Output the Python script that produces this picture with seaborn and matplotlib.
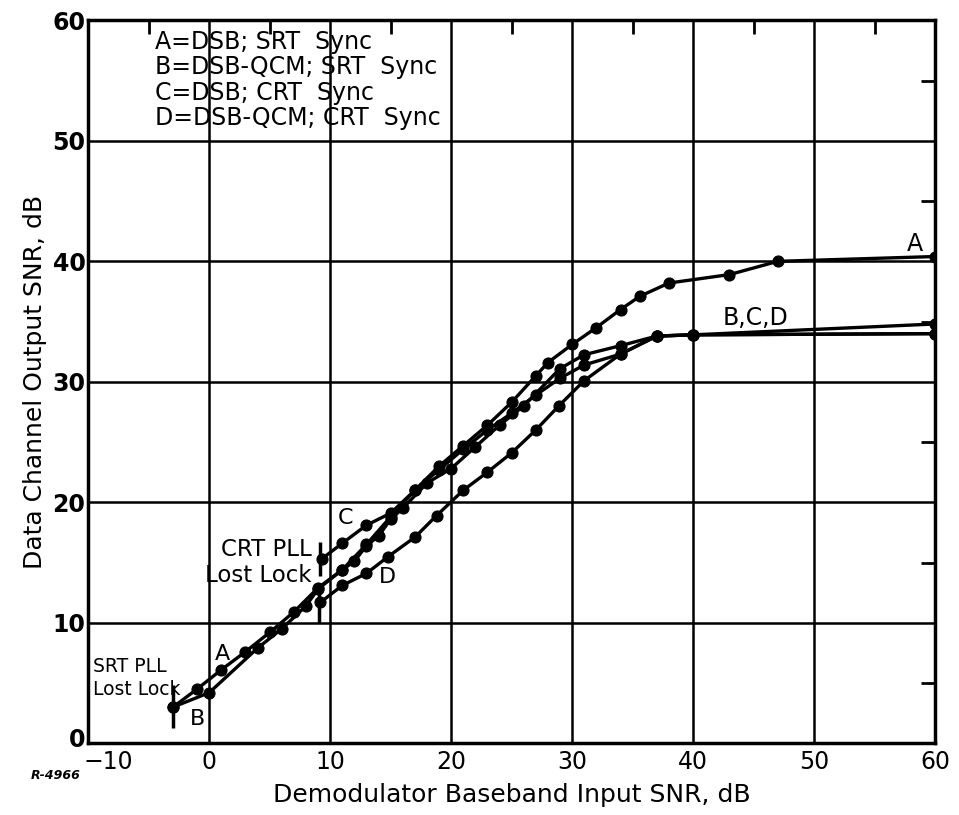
import matplotlib
matplotlib.use("Agg")
import matplotlib.pyplot as plt
import matplotlib.transforms as mtrans
import seaborn as sns
import pandas as pd
from matplotlib.ticker import MultipleLocator

# ---------------- data ----------------
A_x = [-3, -1, 1, 3, 5, 7, 9, 11, 13, 15, 17, 19, 21, 23, 25, 27, 28, 30, 32, 34, 35.6, 38, 43, 47, 60]
A_y = [3.0, 4.5, 6.1, 7.6, 9.2, 10.9, 12.9, 14.4, 16.5, 18.8, 21.0, 23.0, 24.7, 26.4, 28.3, 30.5, 31.6, 33.1, 34.5, 36.0, 37.1, 38.2, 38.9, 40.0, 40.4]

B_x = [-3, 0, 4, 6, 8, 9, 11, 12, 13, 14, 15, 16, 18, 20, 22, 24, 26, 29, 31, 34, 37, 40, 60]
B_y = [3.0, 4.2, 7.9, 9.5, 11.4, 12.8, 14.4, 15.1, 16.4, 17.2, 18.6, 19.5, 21.6, 22.8, 24.6, 26.4, 28.0, 31.1, 32.25, 33.0, 33.8, 33.9, 34.8]

C_x = [9.3, 11, 13, 15, 17, 19, 21, 23, 25, 27, 29, 31, 34, 37, 40, 60]
C_y = [15.3, 16.6, 18.1, 19.1, 21.0, 22.7, 24.4, 26.0, 27.4, 28.9, 30.3, 31.4, 32.3, 33.8, 33.9, 34.0]

D_x = [9.2, 11, 13, 14.8, 17, 18.8, 21, 23, 25, 27, 28.9, 31, 34, 37, 40, 60]
D_y = [11.7, 13.1, 14.1, 15.5, 17.1, 18.9, 21.0, 22.5, 24.1, 26.0, 28.0, 30.1, 32.3, 33.8, 33.9, 34.0]

legend_lines = ["A=DSB; SRT  Sync", "B=DSB-QCM; SRT  Sync", "C=DSB; CRT  Sync", "D=DSB-QCM; CRT  Sync"]
x_ticks = [-10, 0, 10, 20, 30, 40, 50, 60]
y_ticks = [0, 10, 20, 30, 40, 50, 60]

# ---------------- figure ----------------
sns.set_style("white")
plt.rcParams['font.family'] = ['DejaVu Sans']
plt.rcParams['text.color'] = 'black'
plt.rcParams['axes.labelcolor'] = 'black'
plt.rcParams['xtick.color'] = 'black'
plt.rcParams['ytick.color'] = 'black'

fig = plt.figure(figsize=(9.59, 8.15), dpi=100)
ax = fig.add_axes([0.092, 0.088, 0.883, 0.887])

series = [("A", A_x, A_y), ("B", B_x, B_y), ("C", C_x, C_y), ("D", D_x, D_y)]
for name, xs, ys in series:
    df = pd.DataFrame({"x": xs, "y": ys})
    sns.lineplot(data=df, x="x", y="y", ax=ax, color="black", lw=2.4,
                 marker="o", markersize=8, markeredgecolor="black", zorder=3)

ax.set_xlim(-10, 60)
ax.set_ylim(0, 60)
ax.set_xticks(x_ticks)
ax.set_yticks(y_ticks)
ax.xaxis.set_minor_locator(MultipleLocator(5))
ax.yaxis.set_minor_locator(MultipleLocator(5))
ax.tick_params(which="both", direction="in", top=True, right=True, width=2, color="black")
ax.tick_params(which="major", length=0)
ax.tick_params(which="minor", length=10)
ax.tick_params(axis="x", labelsize=17, pad=5)
ax.tick_params(axis="y", labelsize=17, pad=2)
for lab in ax.get_yticklabels():
    lab.set_fontweight("bold")
# nudge the corner labels apart as in the reference
xl0 = ax.get_xticklabels()[0]
xl0.set_transform(xl0.get_transform() + mtrans.ScaledTranslation(20 / 100, 0, fig.dpi_scale_trans))
yl0 = ax.get_yticklabels()[0]
yl0.set_transform(yl0.get_transform() + mtrans.ScaledTranslation(0, 6 / 100, fig.dpi_scale_trans))

ax.grid(True, which="major", color="black", lw=1.8)
ax.set_axisbelow(True)
for s in ax.spines.values():
    s.set_color("black")
    s.set_linewidth(2.5)

ax.set_xlabel("Demodulator Baseband Input SNR, dB", fontsize=18, labelpad=6)
ax.set_ylabel("Data Channel Output SNR, dB", fontsize=18, labelpad=4)

# legend text block
for i, t in enumerate(legend_lines):
    ax.text(-4.5, 58.2 - i * 2.1, t, fontsize=17, va="center", ha="left")

# lost-lock bars
ax.vlines(-3, 1.3, 4.8, color="black", lw=2.5, zorder=4)
ax.vlines(9.1, 10.0, 12.9, color="black", lw=2.5, zorder=4)
ax.vlines(9.2, 13.9, 16.7, color="black", lw=2.5, zorder=4)

# annotations
ax.text(-9.6, 5.4, "SRT PLL\nLost Lock", fontsize=13.5, ha="left", va="center", linespacing=1.25)
ax.text(8.5, 15.0, "CRT PLL\nLost Lock", fontsize=16.5, ha="right", va="center", linespacing=1.2)
ax.text(1.1, 7.4, "A", fontsize=16, ha="center", va="center")
ax.text(-1.0, 2.0, "B", fontsize=16, ha="center", va="center")
ax.text(11.3, 18.7, "C", fontsize=16, ha="center", va="center")
ax.text(14.7, 13.8, "D", fontsize=16, ha="center", va="center")
ax.text(58.3, 41.4, "A", fontsize=17, ha="center", va="center")
ax.text(45.2, 35.3, "B,C,D", fontsize=17, ha="center", va="center")

fig.text(0.032, 0.048, "R-4966", fontsize=9, style="italic", fontweight="bold", ha="left", va="center")

fig.savefig("out.png", dpi=100, facecolor="white")
